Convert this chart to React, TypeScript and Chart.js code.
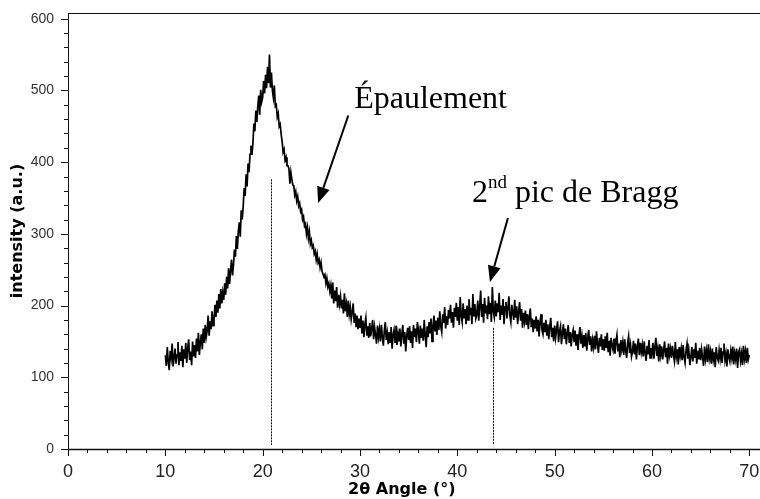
import React, { useEffect, useRef } from "react";
import { Chart, registerables } from "chart.js";

Chart.register(...registerables);

// Sampling grid of the diffractogram (2θ, degrees)
const angleStart = 10;
const angleStep = 0.1;

// Intensity (a.u.), one row per degree (x.0 … x.9)
const intensity = [
  131, 116, 142, 122, 110, 137, 127, 147, 115, 128, // 10
  140, 119, 131, 149, 117, 135, 123, 144, 114, 139, // 11
  126, 148, 120, 141, 153, 124, 136, 117, 150, 129, // 12
  145, 127, 154, 136, 162, 131, 149, 160, 139, 168, // 13
  148, 173, 156, 165, 186, 158, 178, 167, 192, 172, // 14
  179, 201, 184, 207, 190, 216, 196, 223, 203, 218, // 15
  208, 231, 215, 240, 224, 252, 230, 249, 264, 242, // 16
  256, 278, 268, 297, 279, 304, 316, 296, 333, 320, // 17
  338, 364, 353, 383, 366, 398, 386, 411, 423, 410, // 18
  426, 454, 443, 472, 456, 478, 493, 466, 501, 484, // 19
  490, 513, 496, 522, 503, 533, 510, 550, 504, 525, // 20
  500, 490, 507, 478, 480, 463, 468, 450, 453, 439, // 21
  429, 414, 418, 403, 407, 395, 395, 391, 370, 386, // 22
  376, 368, 367, 354, 359, 346, 352, 339, 343, 331, // 23
  334, 320, 324, 311, 314, 300, 309, 294, 303, 286, // 24
  291, 281, 284, 272, 276, 264, 272, 260, 264, 253, // 25
  260, 248, 248, 240, 243, 231, 238, 226, 231, 220, // 26
  228, 210, 232, 203, 221, 206, 226, 197, 215, 202, // 27
  213, 196, 208, 189, 217, 192, 202, 184, 207, 188, // 28
  198, 181, 191, 203, 176, 189, 170, 186, 167, 182, // 29
  169, 186, 161, 179, 156, 174, 183, 158, 171, 155, // 30
  176, 157, 168, 180, 153, 170, 159, 147, 172, 156, // 31
  167, 150, 173, 156, 144, 165, 177, 152, 162, 146, // 32
  163, 148, 170, 140, 159, 166, 149, 172, 145, 161, // 33
  150, 168, 143, 160, 173, 147, 163, 136, 157, 169, // 34
  152, 171, 148, 164, 141, 173, 156, 168, 149, 177, // 35
  165, 147, 172, 155, 168, 151, 180, 158, 142, 171, // 36
  156, 177, 161, 182, 150, 171, 186, 164, 179, 159, // 37
  183, 166, 192, 171, 163, 188, 176, 198, 168, 185, // 38
  173, 194, 182, 201, 176, 191, 169, 197, 184, 204, // 39
  179, 198, 173, 212, 186, 177, 203, 182, 195, 174, // 40
  200, 180, 209, 187, 197, 174, 216, 185, 202, 182, // 41
  187, 207, 179, 199, 221, 184, 202, 176, 211, 189, // 42
  200, 181, 213, 188, 204, 177, 226, 192, 184, 207, // 43
  185, 203, 191, 218, 180, 200, 187, 209, 174, 198, // 44
  205, 182, 197, 213, 186, 177, 201, 190, 180, 208, // 45
  183, 199, 174, 192, 205, 179, 195, 169, 190, 178, // 46
  193, 173, 188, 167, 185, 196, 170, 182, 163, 180, // 47
  168, 185, 164, 180, 157, 177, 188, 166, 160, 176, // 48
  163, 180, 158, 174, 153, 171, 183, 156, 169, 150, // 49
  172, 155, 166, 178, 149, 164, 171, 146, 162, 174, // 50
  153, 168, 146, 161, 173, 148, 163, 143, 160, 166, // 51
  149, 165, 144, 160, 138, 157, 170, 147, 158, 141, // 52
  159, 143, 162, 137, 154, 166, 145, 157, 136, 152, // 53
  142, 158, 139, 164, 147, 134, 155, 143, 160, 138, // 54
  153, 137, 157, 141, 162, 135, 151, 130, 155, 144, // 55
  138, 154, 133, 150, 159, 136, 147, 128, 152, 139, // 56
  149, 131, 153, 137, 127, 148, 157, 134, 145, 129, // 57
  136, 151, 132, 147, 125, 143, 154, 131, 148, 135, // 58
  145, 129, 150, 134, 123, 144, 132, 152, 127, 141, // 59
  133, 148, 126, 142, 155, 130, 140, 122, 146, 131, // 60
  143, 125, 138, 150, 128, 141, 119, 147, 131, 140, // 61
  127, 144, 132, 123, 149, 129, 139, 118, 142, 130, // 62
  140, 124, 145, 128, 120, 138, 147, 126, 135, 117, // 63
  129, 142, 122, 139, 127, 148, 119, 137, 125, 141, // 64
  124, 139, 128, 116, 143, 126, 137, 121, 146, 127, // 65
  136, 119, 140, 125, 135, 114, 142, 127, 123, 138, // 66
  126, 141, 120, 135, 147, 124, 133, 115, 139, 128, // 67
  122, 137, 127, 143, 118, 134, 125, 140, 113, 135, // 68
  139, 123, 133, 117, 144, 126, 136, 120, 141, 125, // 69
  131, // 70
];

// Axis ticks
const xTickValues = [0, 10, 20, 30, 40, 50, 60, 70];
const yTickValues = [0, 100, 200, 300, 400, 500, 600];
const xMinorStep = 2;
const yMinorStep = 20;
const xRange = [0, 71.1];
const yRange = [0, 608];

// Peak markers (dotted verticals): position and height in data units
const markerAngles = [20.87, 43.67];
const markerTops = [376, 169];

// Annotations (data units)
const shoulderLabel = "Épaulement";
const shoulderLabelAt = [29.4, 476];
const shoulderArrowFrom = [28.8, 465];
const shoulderArrowTo = [25.7, 343];

const braggLabelMain = "2";
const braggLabelSup = "nd";
const braggLabelRest = " pic de Bragg";
const braggLabelAt = [41.5, 344];
const braggArrowFrom = [45.2, 322];
const braggArrowTo = [43.35, 233];

const xTitle = "2θ Angle (°)";
const yTitle = "intensity (a.u.)";

const SANS = '"Liberation Sans", Arial, sans-serif';
const TITLE_SANS = '"DejaVu Sans", "Liberation Sans", sans-serif';
const SERIF = '"Liberation Serif", "Times New Roman", serif';

function drawArrow(ctx: CanvasRenderingContext2D, x0: number, y0: number, x1: number, y1: number) {
  const ang = Math.atan2(y1 - y0, x1 - x0);
  const headLen = 16;
  const headHalf = 6.5;
  const bx = x1 - headLen * Math.cos(ang);
  const by = y1 - headLen * Math.sin(ang);
  ctx.beginPath();
  ctx.moveTo(x0, y0);
  ctx.lineTo(bx, by);
  ctx.lineWidth = 2;
  ctx.strokeStyle = "#000";
  ctx.stroke();
  ctx.beginPath();
  ctx.moveTo(x1, y1);
  ctx.lineTo(bx + headHalf * Math.sin(ang), by - headHalf * Math.cos(ang));
  ctx.lineTo(bx - headHalf * Math.sin(ang), by + headHalf * Math.cos(ang));
  ctx.closePath();
  ctx.fillStyle = "#000";
  ctx.fill();
}

const overlayPlugin = {
  id: "xrdOverlay",
  afterDatasetsDraw(chart: any) {
    const { ctx, chartArea: a, scales } = chart;
    const xs = scales.x;
    const ys = scales.y;
    ctx.save();

    // dotted peak markers
    ctx.strokeStyle = "#000";
    ctx.lineWidth = 1;
    ctx.setLineDash([2, 1]);
    markerAngles.forEach((ang, i) => {
      const px = Math.round(xs.getPixelForValue(ang)) + 0.5;
      ctx.beginPath();
      ctx.moveTo(px, ys.getPixelForValue(markerTops[i]));
      ctx.lineTo(px, a.bottom - 4);
      ctx.stroke();
    });
    ctx.setLineDash([]);

    // frame: top, left, bottom (no right edge visible)
    ctx.strokeStyle = "#111";
    ctx.lineWidth = 1;
    ctx.beginPath();
    ctx.moveTo(a.left, Math.round(a.top) + 0.5);
    ctx.lineTo(a.right, Math.round(a.top) + 0.5);
    ctx.moveTo(Math.round(a.left) + 0.5, a.top);
    ctx.lineTo(Math.round(a.left) + 0.5, a.bottom);
    ctx.stroke();
    ctx.lineWidth = 1.5;
    ctx.beginPath();
    ctx.moveTo(a.left, Math.round(a.bottom) + 0.5);
    ctx.lineTo(a.right, Math.round(a.bottom) + 0.5);
    ctx.stroke();

    // ticks
    ctx.lineWidth = 1;
    ctx.beginPath();
    for (let v = yRange[0]; v <= 600; v += yMinorStep) {
      const py = Math.round(ys.getPixelForValue(v)) + 0.5;
      const len = yTickValues.includes(v) ? 7 : 4;
      ctx.moveTo(a.left - len, py);
      ctx.lineTo(a.left, py);
    }
    for (let v = xRange[0]; v <= xRange[1]; v += xMinorStep) {
      const px = Math.round(xs.getPixelForValue(v)) + 0.5;
      const len = xTickValues.includes(v) ? 7 : 4;
      ctx.moveTo(px, a.bottom);
      ctx.lineTo(px, a.bottom + len);
    }
    ctx.stroke();

    // axis titles
    ctx.fillStyle = "#000";
    ctx.font = `bold 16px ${TITLE_SANS}`;
    ctx.textAlign = "center";
    ctx.textBaseline = "alphabetic";
    ctx.fillText(xTitle, xs.getPixelForValue(34.3), 494);
    ctx.save();
    ctx.translate(22, (a.top + a.bottom) / 2);
    ctx.rotate(-Math.PI / 2);
    ctx.fillText(yTitle, 0, 0);
    ctx.restore();

    // annotations
    ctx.textAlign = "left";
    ctx.font = `32px ${SERIF}`;
    ctx.fillText(shoulderLabel, xs.getPixelForValue(shoulderLabelAt[0]), ys.getPixelForValue(shoulderLabelAt[1]));
    drawArrow(
      ctx,
      xs.getPixelForValue(shoulderArrowFrom[0]),
      ys.getPixelForValue(shoulderArrowFrom[1]),
      xs.getPixelForValue(shoulderArrowTo[0]),
      ys.getPixelForValue(shoulderArrowTo[1])
    );

    let bx = xs.getPixelForValue(braggLabelAt[0]);
    const by = ys.getPixelForValue(braggLabelAt[1]);
    ctx.font = `32px ${SERIF}`;
    ctx.fillText(braggLabelMain, bx, by);
    bx += ctx.measureText(braggLabelMain).width;
    ctx.font = `19px ${SERIF}`;
    ctx.fillText(braggLabelSup, bx, by - 14);
    bx += ctx.measureText(braggLabelSup).width;
    ctx.font = `32px ${SERIF}`;
    ctx.fillText(braggLabelRest, bx, by);
    drawArrow(
      ctx,
      xs.getPixelForValue(braggArrowFrom[0]),
      ys.getPixelForValue(braggArrowFrom[1]),
      xs.getPixelForValue(braggArrowTo[0]),
      ys.getPixelForValue(braggArrowTo[1])
    );

    ctx.restore();
  },
};

export default function App() {
  const canvasRef = useRef<HTMLCanvasElement | null>(null);

  useEffect(() => {
    document.body.style.margin = "0";
    const canvas = canvasRef.current;
    if (!canvas) return;
    const points = intensity.map((v, i) => ({ x: angleStart + i * angleStep, y: v }));

    const chart = new Chart(canvas, {
      type: "line",
      data: {
        datasets: [
          {
            data: points,
            borderColor: "#000",
            borderWidth: 1.7,
            pointRadius: 0,
            tension: 0,
            fill: false,
          },
        ],
      },
      options: {
        animation: false,
        responsive: false,
        devicePixelRatio: 1,
        layout: { padding: { top: 13, right: 0, left: 0, bottom: 0 } },
        plugins: { legend: { display: false }, tooltip: { enabled: false } },
        scales: {
          x: {
            type: "linear",
            min: xRange[0],
            max: xRange[1],
            grid: { display: false },
            border: { display: false },
            afterBuildTicks: (scale: any) => {
              scale.ticks = xTickValues.map((v) => ({ value: v }));
            },
            afterFit: (scale: any) => {
              scale.height = 50;
              scale.paddingRight = 0;
              scale.paddingLeft = 0;
            },
            ticks: {
              color: "#222",
              font: { family: SANS, size: 18 },
              padding: 4,
              maxRotation: 0,
              autoSkip: false,
            },
          },
          y: {
            type: "linear",
            min: yRange[0],
            max: yRange[1],
            grid: { display: false },
            border: { display: false },
            afterBuildTicks: (scale: any) => {
              scale.ticks = yTickValues.map((v) => ({ value: v }));
            },
            afterFit: (scale: any) => {
              scale.width = 68;
              scale.paddingTop = 0;
              scale.paddingBottom = 0;
            },
            ticks: {
              color: "#333",
              font: { family: SANS, size: 14 },
              padding: 6,
              autoSkip: false,
            },
          },
        },
      },
      plugins: [overlayPlugin],
    });
    return () => chart.destroy();
  }, []);

  return (
    <div style={{ width: 760, height: 499, background: "#fff" }}>
      <canvas ref={canvasRef} width={760} height={499} />
    </div>
  );
}
